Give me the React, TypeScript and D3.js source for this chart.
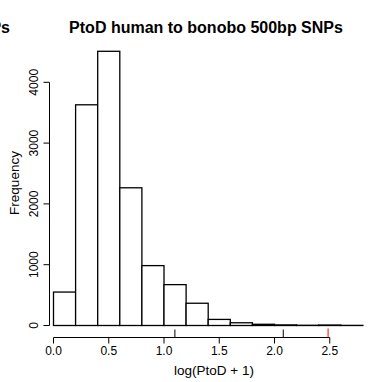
import React from "react";
import * as d3 from "d3";

const binEdges = [0, 0.2, 0.4, 0.6, 0.8, 1.0, 1.2, 1.4, 1.6, 1.8, 2.0, 2.2, 2.4, 2.6, 2.8];
const counts = [550, 3630, 4510, 2265, 985, 672, 366, 100, 45, 20, 10, 4, 8, 2];
const xTicks = [0, 0.5, 1.0, 1.5, 2.0, 2.5];
const yTicks = [0, 1000, 2000, 3000, 4000];
const markBlack = [Math.log(3), Math.log(8)];
const markRed = [Math.log(12)];
const title = "PtoD human to bonobo 500bp SNPs";
const prevTitleTail = "500bp SNPs";
const xLabel = "log(PtoD + 1)";
const yLabel = "Frequency";

export default function App() {
  const W = 381, H = 382;
  const x = d3.scaleLinear().domain([0, 1]).range([53.5, 164]);
  const y = d3.scaleLinear().domain([0, 4000]).range([325.5, 82.3]);
  const font = "'Liberation Sans', Arial, Helvetica, sans-serif";
  const axisY = 337.5;
  const yAxisX = 49.5;
  return (
    <svg width={W} height={H} style={{ position: "absolute", left: 0, top: 0, background: "#fff" }} fontFamily={font}>
      <rect x={0} y={0} width={W} height={H} fill="#fff" />
      <text x={10} y={33} textAnchor="end" fontSize={16} fontWeight="bold">{prevTitleTail}</text>
      <text x={206} y={33} textAnchor="middle" fontSize={16} fontWeight="bold">{title}</text>
      {counts.map((c, i) => (
        <rect key={i} x={x(binEdges[i])} y={y(c)} width={x(binEdges[i + 1]) - x(binEdges[i])}
          height={y(0) - y(c)} fill="#fff" stroke="#000" strokeWidth={1.3} />
      ))}
      {/* x axis */}
      <line x1={x(xTicks[0])} x2={x(xTicks[xTicks.length - 1])} y1={axisY} y2={axisY} stroke="#000" strokeWidth={1} />
      {xTicks.map((t) => (
        <g key={t}>
          <line x1={x(t)} x2={x(t)} y1={axisY} y2={axisY + 6} stroke="#000" strokeWidth={1} />
          <text x={x(t)} y={355} textAnchor="middle" fontSize={12}>{t.toFixed(1)}</text>
        </g>
      ))}
      {markBlack.map((t, i) => (
        <line key={"b" + i} x1={x(t)} x2={x(t)} y1={axisY} y2={axisY - 8} stroke="#000" strokeWidth={1} />
      ))}
      {markRed.map((t, i) => (
        <line key={"r" + i} x1={x(t)} x2={x(t)} y1={axisY} y2={axisY - 9} stroke="red" strokeWidth={1} />
      ))}
      <text x={214} y={375} textAnchor="middle" fontSize={13.5}>{xLabel}</text>
      {/* y axis */}
      <line x1={yAxisX} x2={yAxisX} y1={y(yTicks[0])} y2={y(yTicks[yTicks.length - 1])} stroke="#000" strokeWidth={1} />
      {yTicks.map((t) => (
        <g key={t}>
          <line x1={yAxisX - 6} x2={yAxisX} y1={y(t)} y2={y(t)} stroke="#000" strokeWidth={1} />
          <text transform={`translate(38,${y(t)}) rotate(-90)`} textAnchor="middle" fontSize={12}>{t}</text>
        </g>
      ))}
      <text transform={`translate(18.5,183) rotate(-90)`} textAnchor="middle" fontSize={13.5}>{yLabel}</text>
    </svg>
  );
}
